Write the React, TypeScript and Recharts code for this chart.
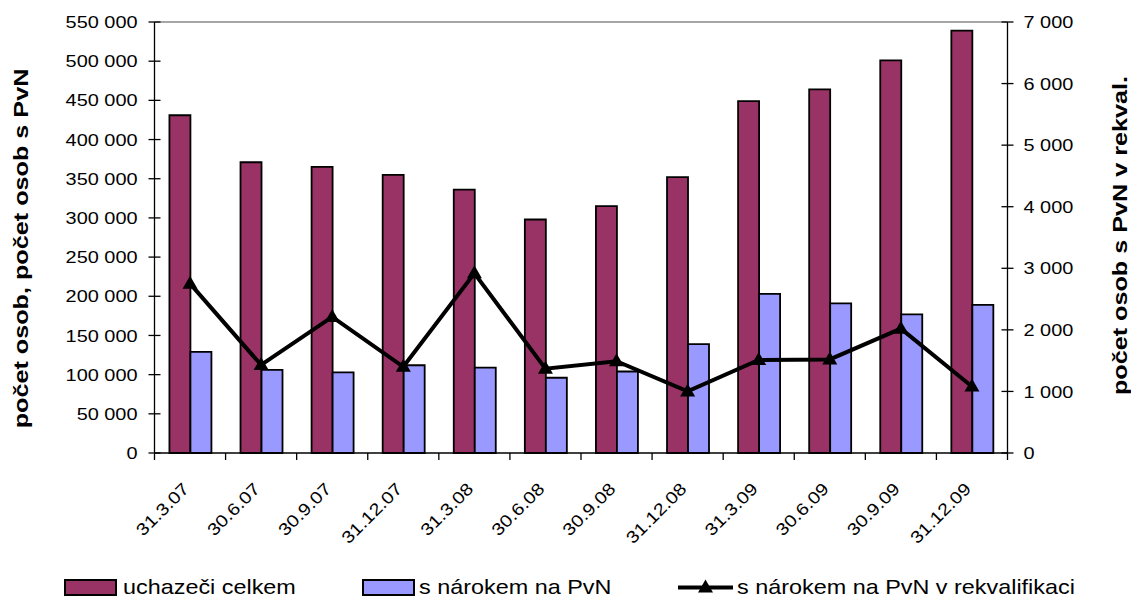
import React from 'react';
import { ComposedChart, Bar, Line, XAxis, YAxis, Legend, ReferenceLine } from 'recharts';

const categories = ['31.3.07', '30.6.07', '30.9.07', '31.12.07', '31.3.08', '30.6.08', '30.9.08', '31.12.08', '31.3.09', '30.6.09', '30.9.09', '31.12.09'];
const uchazeciCelkem = [431000, 371000, 365000, 355000, 336000, 298000, 315000, 352000, 449000, 464000, 501000, 539000];
const sNarokem = [129000, 106000, 103000, 112000, 109000, 96000, 104000, 139000, 203000, 191000, 177000, 189000];
const vRekvalifikaci = [2750, 1430, 2210, 1400, 2920, 1370, 1490, 1000, 1510, 1520, 2020, 1080];

const leftTicks = [0, 50000, 100000, 150000, 200000, 250000, 300000, 350000, 400000, 450000, 500000, 550000];
const rightTicks = [0, 1000, 2000, 3000, 4000, 5000, 6000, 7000];

const data = categories.map((name, i) => ({
  name,
  uchazeci: uchazeciCelkem[i],
  pvn: sNarokem[i],
  rekval: vRekvalifikaci[i],
}));

const FONT = 'Arial, "Liberation Sans", sans-serif';
const MAROON = '#993366';
const BLUE = '#9999FF';
// the original text is rendered a bit wider than Arial
const STRETCH = 1.17;

const fmt = (v: number) => String(v).replace(/\B(?=(\d{3})+(?!\d))/g, ' ');

const XTick = (props: any) => {
  const { x, y, payload, index, visibleTicksCount } = props;
  const half = payload?.offset ?? 35.5;
  const ly = y + 37;
  return (
    <g>
      <line x1={x - half} x2={x - half} y1={y} y2={y + 7} stroke="#000" strokeWidth={1.3} />
      {index === visibleTicksCount - 1 && (
        <line x1={x + half} x2={x + half} y1={y} y2={y + 7} stroke="#000" strokeWidth={1.3} />
      )}
      <text
        transform={`translate(${x}, ${ly}) rotate(-45) scale(${STRETCH}, 1)`}
        textAnchor="end"
        fontSize={17}
        fontFamily={FONT}
        fill="#000"
      >
        {payload.value}
      </text>
    </g>
  );
};

const LeftTick = (props: any) => {
  const { x, y, payload } = props;
  const axisX = x + 17;
  return (
    <g>
      <line x1={axisX - 6} x2={axisX + 6} y1={y} y2={y} stroke="#000" strokeWidth={1.3} />
      <text transform={`translate(${x}, ${y}) scale(${STRETCH}, 1)`} dy="0.36em" textAnchor="end" fontSize={17} fontFamily={FONT} fill="#000">
        {fmt(payload.value)}
      </text>
    </g>
  );
};

const RightTick = (props: any) => {
  const { x, y, payload } = props;
  const axisX = x - 16;
  return (
    <g>
      <line x1={axisX - 6} x2={axisX + 6} y1={y} y2={y} stroke="#000" strokeWidth={1.3} />
      <text transform={`translate(${x}, ${y}) scale(${STRETCH}, 1)`} dy="0.36em" textAnchor="start" fontSize={17} fontFamily={FONT} fill="#000">
        {fmt(payload.value)}
      </text>
    </g>
  );
};

const Triangle = (props: any) => {
  const { cx, cy } = props;
  if (cx == null || cy == null) return null;
  return <polygon points={`${cx},${cy - 8} ${cx - 7.5},${cy + 5} ${cx + 7.5},${cy + 5}`} fill="#000" />;
};

const LegendText = ({ x, children }: { x: number; children: React.ReactNode }) => (
  <text transform={`translate(${x}, 36) scale(${STRETCH}, 1)`} fontSize={20} fontFamily={FONT} fill="#000">
    {children}
  </text>
);

const LegendContent = () => (
  <svg width={1131} height={40} style={{ display: 'block', overflow: 'visible' }}>
    <rect x={65} y={22} width={51} height={15} fill={MAROON} stroke="#000" strokeWidth={2} />
    <LegendText x={123}>uchazeči celkem</LegendText>
    <rect x={363} y={22} width={51} height={15} fill={BLUE} stroke="#000" strokeWidth={2} />
    <LegendText x={419}>s nárokem na PvN</LegendText>
    <line x1={678} x2={733} y1={29.5} y2={29.5} stroke="#000" strokeWidth={4} />
    <polygon points="705.5,21.5 698,34.5 713,34.5" fill="#000" />
    <LegendText x={737}>s nárokem na PvN v rekvalifikaci</LegendText>
  </svg>
);

const LeftLabel = (props: any) => {
  const { viewBox } = props;
  const cy = viewBox.y + viewBox.height / 2 + 11;
  return (
    <text transform={`translate(28, ${cy}) rotate(-90) scale(1.2, 1)`} textAnchor="middle" fontSize={21} fontWeight="bold" fontFamily={FONT} fill="#000">
      počet osob, počet osob s PvN
    </text>
  );
};

const RightLabel = (props: any) => {
  const { viewBox } = props;
  const cy = viewBox.y + viewBox.height / 2 - 2;
  return (
    <text transform={`translate(1127, ${cy}) rotate(-90) scale(1.2, 1)`} textAnchor="middle" fontSize={21} fontWeight="bold" fontFamily={FONT} fill="#000">
      počet osob s PvN v rekval.
    </text>
  );
};

export default function App() {
  return (
    <div style={{ position: 'absolute', left: 0, top: 0, width: 1131, height: 598, background: '#fff' }}>
      <ComposedChart
        width={1131}
        height={598}
        data={data}
        margin={{ top: 22, right: 0, left: 0, bottom: 0 }}
        barCategoryGap="21%"
        barGap={0}
      >
        <XAxis
          dataKey="name"
          height={105}
          tick={<XTick />}
          tickLine={false}
          tickSize={0}
          tickMargin={0}
          interval={0}
          axisLine={{ stroke: '#000', strokeWidth: 1.3 }}
        />
        <YAxis
          yAxisId="left"
          width={154.5}
          domain={[0, 550000]}
          ticks={leftTicks}
          tick={<LeftTick />}
          tickSize={6}
          tickMargin={11}
          tickLine={false}
          axisLine={{ stroke: '#000', strokeWidth: 1.3 }}
          label={<LeftLabel />}
        />
        <YAxis
          yAxisId="right"
          orientation="right"
          width={123.5}
          domain={[0, 7000]}
          ticks={rightTicks}
          tick={<RightTick />}
          tickSize={6}
          tickMargin={10}
          tickLine={false}
          axisLine={{ stroke: '#000', strokeWidth: 1.3 }}
          label={<RightLabel />}
        />
        <ReferenceLine yAxisId="left" y={550000} stroke="#888" strokeWidth={1.3} />
        <Legend verticalAlign="bottom" height={40} content={<LegendContent />} wrapperStyle={{ left: 0, bottom: 0, width: 1131 }} />
        <Bar yAxisId="left" dataKey="uchazeci" name="uchazeči celkem" fill={MAROON} stroke="#000" strokeWidth={1.8} isAnimationActive={false} />
        <Bar yAxisId="left" dataKey="pvn" name="s nárokem na PvN" fill={BLUE} stroke="#000" strokeWidth={1.8} isAnimationActive={false} />
        <Line
          yAxisId="right"
          type="linear"
          dataKey="rekval"
          name="s nárokem na PvN v rekvalifikaci"
          stroke="#000"
          strokeWidth={4}
          dot={<Triangle />}
          activeDot={false}
          isAnimationActive={false}
        />
      </ComposedChart>
    </div>
  );
}
